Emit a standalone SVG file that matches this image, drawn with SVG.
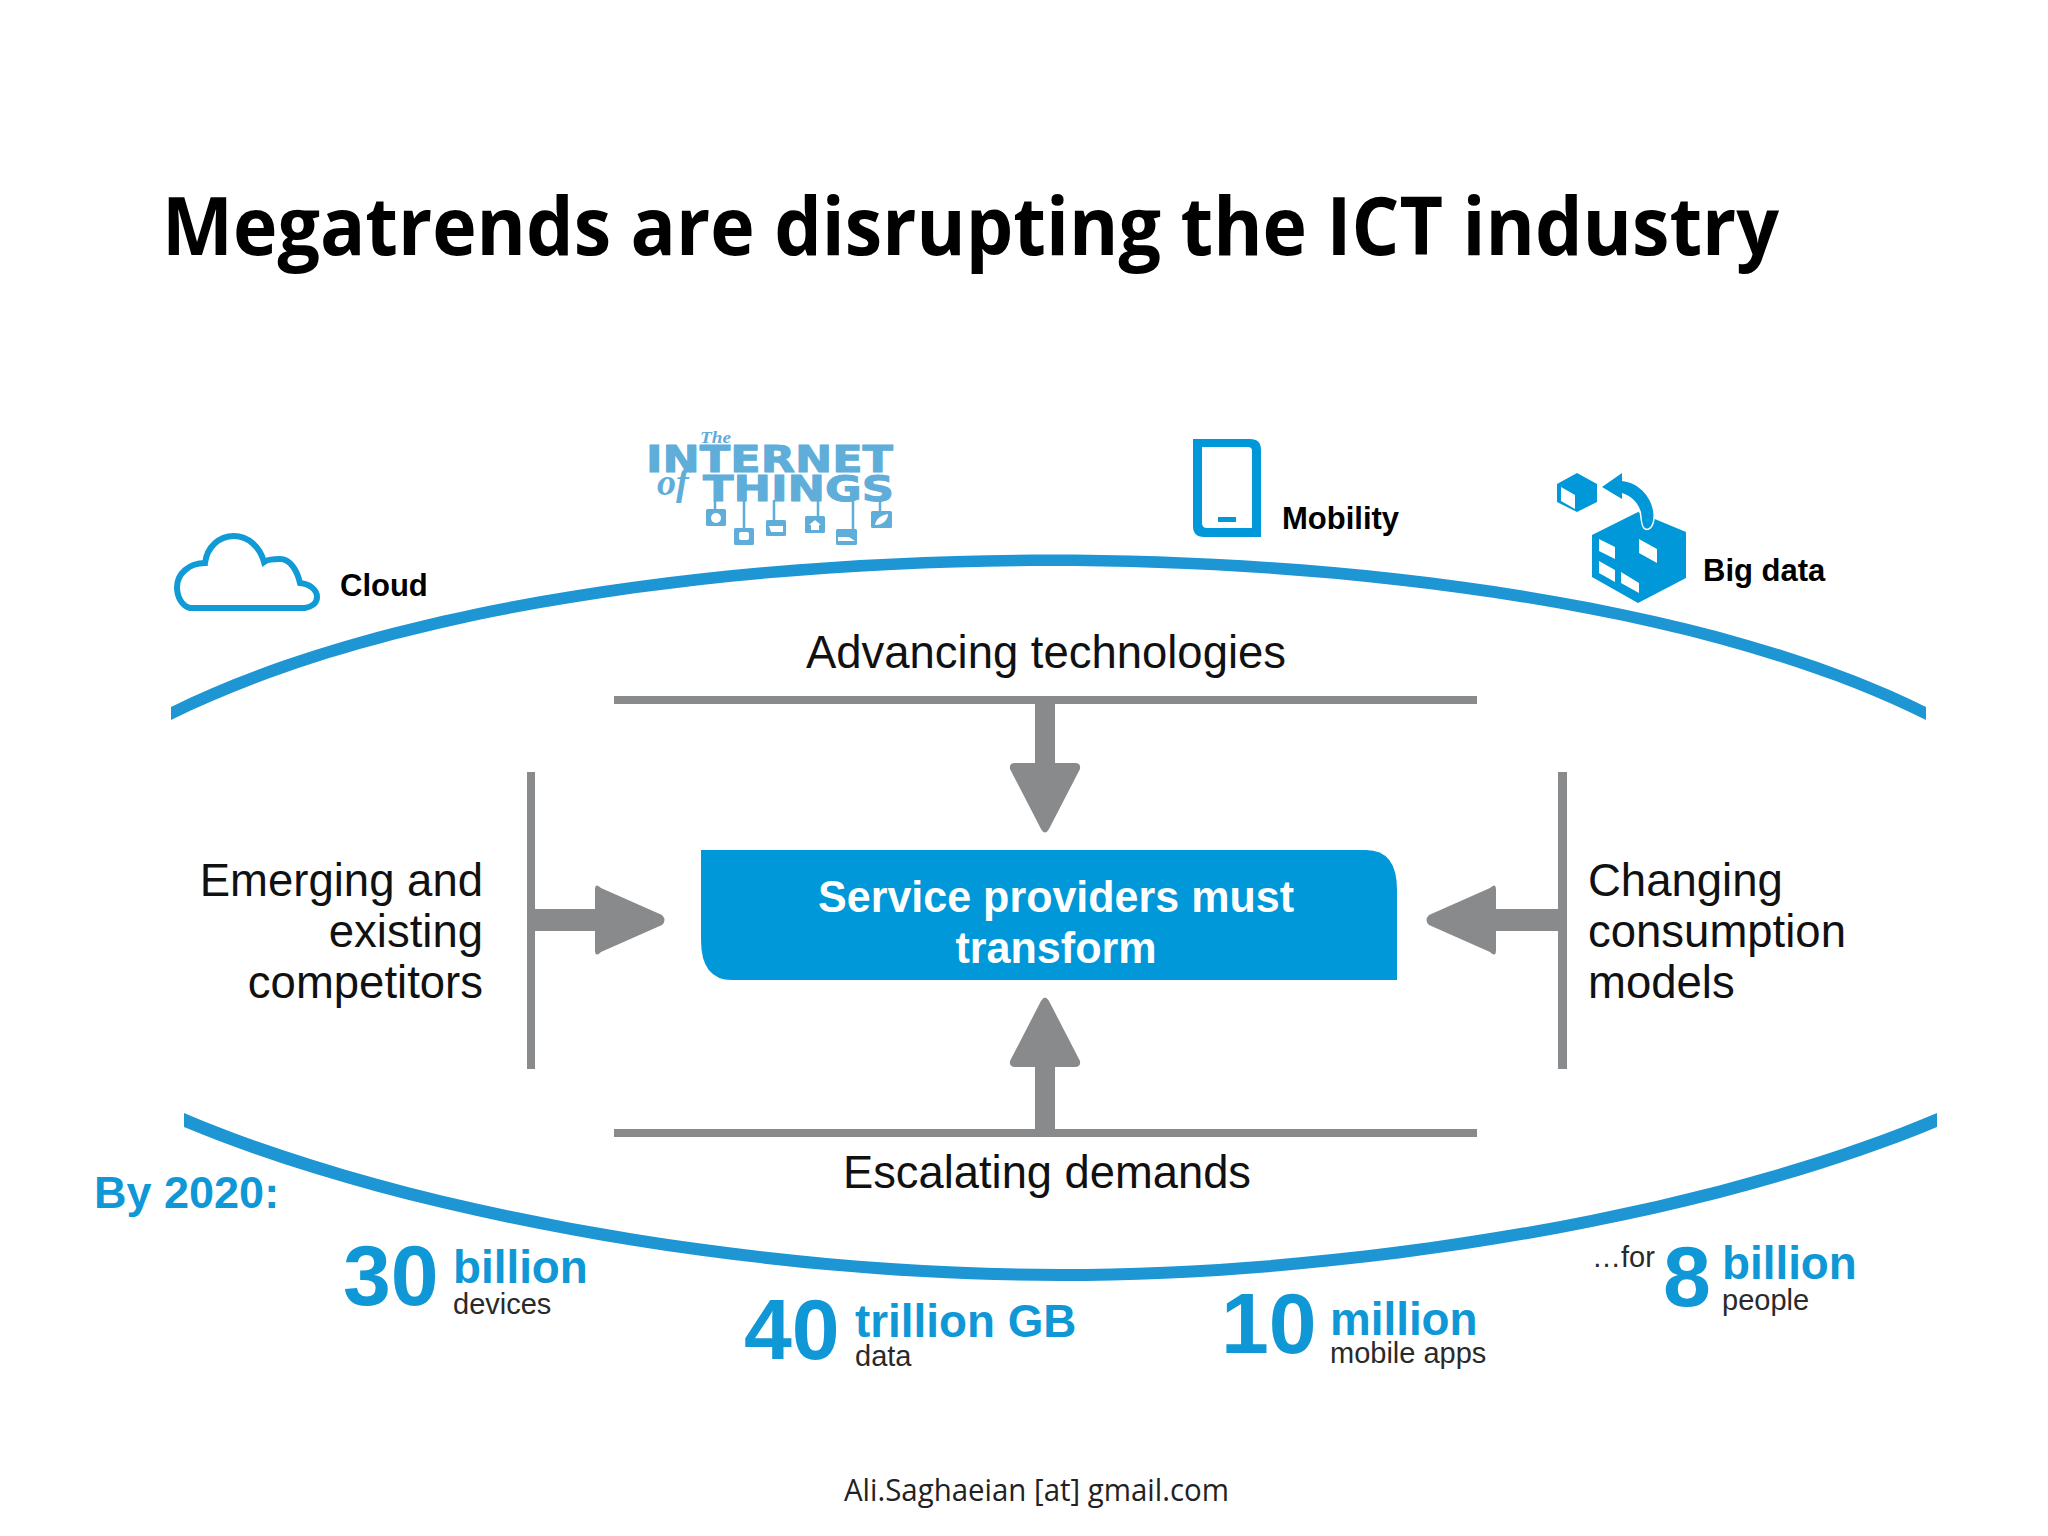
<svg xmlns="http://www.w3.org/2000/svg" width="2048" height="1536" viewBox="0 0 2048 1536">
<style>
text{font-family:"Liberation Sans",Arial,sans-serif}
.t{font-size:45.5px;fill:#111}
.lb{font-size:31px;font-weight:bold;fill:#000}
.big{font-size:86px;font-weight:bold;fill:#0f97d6}
.unit{font-size:45.8px;font-weight:bold;fill:#0f97d6}
.sub{font-size:29px;fill:#2a2a2a}
.g{fill:#898a8c}
.b{fill:#0098d8}
.iot{fill:#5fadd9}
.heavy{stroke:#5fadd9;stroke-width:1}
.arc{fill:#1e96d4}
</style>
<rect width="2048" height="1536" fill="#fff"/>
<text id="title" x="162" y="255" font-size="80" font-weight="bold" textLength="1617" lengthAdjust="spacingAndGlyphs" style="font-family:'Open Sans',sans-serif" fill="#000">Megatrends are disrupting the ICT industry</text>
<g id="connectors">
<path class="arc" d="M171 707C400 594 760 554.5 1048 554.5C1337 554.5 1697 594 1926 707V720C1697 606 1337 566 1048 566C760 566 400 606 171 720Z"/>
<path class="arc" d="M184 1113C410 1209 760 1269 1060 1269C1361 1269 1711 1209 1937 1113V1127C1711 1221 1361 1281 1060 1281C760 1281 410 1221 184 1127Z"/>
<path class="g" d="M614 696H1477V704H1055V763H1075Q1081 763 1080 769L1049 829Q1045 836 1041 829L1010 769Q1009 763 1015 763H1035V704H614Z"/>
<path class="g" d="M614 1137H1477V1129H1055V1067H1075Q1081 1067 1080 1061L1049 1001Q1045 994 1041 1001L1010 1061Q1009 1067 1015 1067H1035V1129H614Z"/>
<path class="g" d="M527 772H535V909H595V890Q595 882 601 888L662 915Q667 920 662 925L601 952Q595 958 595 950V931H535V1069H527Z"/>
<path class="g" d="M1567 772H1558V909H1496V890Q1496 882 1490 888L1429 915Q1424 920 1429 925L1490 952Q1496 958 1496 950V931H1558V1069H1567Z"/>
</g>
<g id="cloud">
<path d="M190 608C182 606 177 597 177 587C177 574 189 563 205 563C207 547 219 536 234 536C248 536 260 547 264 562C268 559 274 559 280 559C290 559 297 570 300 583C310 584 317 590 317 597C317 603 312 607 305 608Z" fill="#fff" stroke="#109ad6" stroke-width="6"/>
<text class="lb" x="340" y="596">Cloud</text>
</g>
<g id="iot">
<text x="700" y="443" font-size="16" font-weight="bold" font-style="italic" style="font-family:'Liberation Serif',serif" class="iot" textLength="31" lengthAdjust="spacingAndGlyphs">The</text>
<text x="646" y="472" font-size="37" font-weight="bold" style="font-family:'DejaVu Sans',sans-serif" class="iot heavy" textLength="247" lengthAdjust="spacingAndGlyphs">INTERNET</text>
<text x="657" y="495" font-size="38" font-weight="bold" font-style="italic" style="font-family:'Liberation Serif',serif" class="iot">of</text>
<text x="703" y="501" font-size="36" font-weight="bold" style="font-family:'DejaVu Sans',sans-serif" class="iot heavy" textLength="191" lengthAdjust="spacingAndGlyphs">THINGS</text>
<path d="M715 500V510M744 500V530M774 500V521M818 500V517M853 500V530M880 500V512" stroke="#5fadd9" stroke-width="2.5" fill="none"/>
<g class="iot">
<rect x="706" y="509" width="20" height="17" rx="1.5"/>
<rect x="734" y="528" width="20" height="17" rx="1.5"/>
<rect x="766" y="520" width="20" height="16" rx="1.5"/>
<rect x="805" y="516" width="20" height="17" rx="1.5"/>
<rect x="836" y="529" width="21" height="16" rx="1.5"/>
<rect x="871" y="511" width="21" height="17" rx="1.5"/>
</g>
<g fill="#fff">
<circle cx="716" cy="518" r="5"/>
<rect x="739" y="532" width="10" height="8" rx="2"/>
<path d="M769 526H783V532H771Z"/>
<path d="M815 520L821 525H819V530H811V525H809Z"/>
<path d="M838 537H849L855 541H838Z"/>
<path d="M875 525C876 518 882 515 888 514C888 520 883 525 875 525Z"/>
</g>
</g>
<g id="mobility">
<path d="M1193 439H1250Q1261 439 1261 450V537H1204Q1193 537 1193 526Z" class="b"/>
<path d="M1202 447H1248Q1252 447 1252 451V528H1207Q1202 528 1202 523Z" fill="#fff"/>
<rect x="1218" y="517" width="18" height="5" class="b"/>
<text class="lb" x="1282" y="529">Mobility</text>
</g>
<g id="bigdata">
<path class="b" d="M1638 512L1686 532V578L1638 603L1592 577V535Z"/>
<path fill="#fff" d="M1599 539L1615 547V559L1599 551ZM1599 561L1615 570V582L1599 573ZM1621 572L1639 583V593L1621 583ZM1639 539L1657 549V563L1639 553Z"/>
<path class="b" d="M1577 473L1597 484V502L1577 512L1557 502V484Z"/>
<path fill="#fff" d="M1561 487L1575 495V509L1561 501Z"/>
<path class="b" stroke="#fff" stroke-width="3" paint-order="stroke" d="M1602 487L1622 473V481C1642 483 1656 503 1653 520C1652 527 1648 530 1645 528C1642 526 1642 518 1641 512C1638 503 1632 496 1622 493V499Z"/>
<text class="lb" x="1703" y="581">Big data</text>
</g>
<g id="center">
<path class="b" d="M701 850H1366Q1397 850 1397 890V980H732Q701 980 701 940Z"/>
<g font-size="45" font-weight="bold" fill="#fff" text-anchor="middle">
<text x="1056" y="912" textLength="476" lengthAdjust="spacingAndGlyphs">Service providers must</text>
<text x="1056" y="963" textLength="201" lengthAdjust="spacingAndGlyphs">transform</text>
</g>
</g>
<g id="advancing"><text class="t" x="1046" y="668" text-anchor="middle" textLength="480" lengthAdjust="spacingAndGlyphs">Advancing technologies</text></g>
<g id="escalating"><text class="t" x="1047" y="1188" text-anchor="middle" textLength="408" lengthAdjust="spacingAndGlyphs">Escalating demands</text></g>
<g id="emerging" text-anchor="end">
<text class="t" x="483" y="896">Emerging and</text>
<text class="t" x="483" y="947">existing</text>
<text class="t" x="483" y="998">competitors</text>
</g>
<g id="changing">
<text class="t" x="1588" y="896">Changing</text>
<text class="t" x="1588" y="947">consumption</text>
<text class="t" x="1588" y="998">models</text>
</g>
<g id="by2020"><text x="94" y="1208" font-size="45" font-weight="bold" fill="#0f97d6">By 2020:</text></g>
<g id="stat30"><text class="big" x="343" y="1305">30</text><text class="unit" x="453" y="1283">billion</text><text class="sub" x="453" y="1314">devices</text></g>
<g id="stat40"><text class="big" x="744" y="1359">40</text><text class="unit" x="855" y="1337">trillion GB</text><text class="sub" x="855" y="1366">data</text></g>
<g id="stat10"><text class="big" x="1221" y="1353">10</text><text class="unit" x="1330" y="1335">million</text><text class="sub" x="1330" y="1363">mobile apps</text></g>
<g id="stat8"><text class="sub" x="1592" y="1267">…for</text><text class="big" x="1663" y="1306">8</text><text class="unit" x="1722" y="1279">billion</text><text class="sub" x="1722" y="1310">people</text></g>
<text id="footer" x="844" y="1501" font-size="31" textLength="385" lengthAdjust="spacingAndGlyphs" style="font-family:'Open Sans',sans-serif" fill="#222">Ali.Saghaeian [at] gmail.com</text>
</svg>
